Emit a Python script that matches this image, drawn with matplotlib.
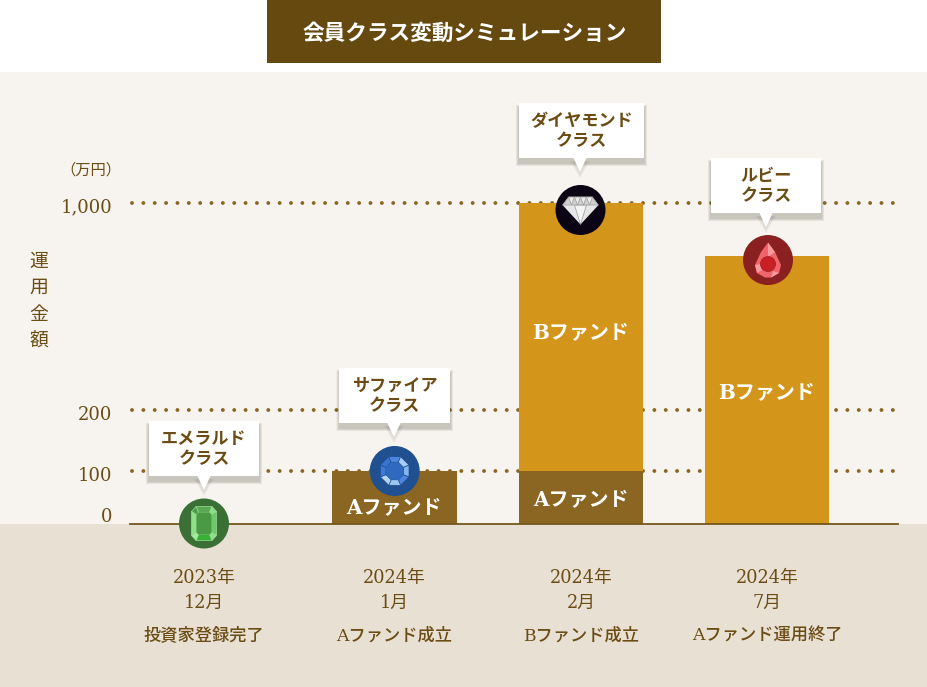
import numpy as np
import matplotlib
matplotlib.use('Agg')
import matplotlib.pyplot as plt
from matplotlib.patches import Rectangle, Polygon, Circle
from matplotlib.transforms import ScaledTranslation

# Data
dates = ['2023年\n12月', '2024年\n1月', '2024年\n2月', '2024年\n7月']
events = ['投資家登録完了', 'Aファンド成立', 'Bファンド成立', 'Aファンド運用終了']
classes = ['エメラルド\nクラス', 'サファイア\nクラス', 'ダイヤモンド\nクラス', 'ルビー\nクラス']
fund_a = [0, 100, 100, 0]
fund_b = [0, 0, 900, 795]
y_ticks = [0, 100, 200, 1000]
y_tick_labels = ['0', '100', '200', '1,000']
grid_values = [100, 200, 1000]

# Layout (pixels)
W, H = 928, 687
slot_x = [204, 394.5, 581, 767]
y0, y1000 = 523.5, 203
scale_px = [0, 52.5, 113.5, 320.5]

BROWN = '#6b4c14'
DOT = '#8a6622'
MIXED = ['DejaVu Serif', 'Noto Sans CJK JP']
GOTHIC = ['Noto Sans CJK JP', 'DejaVu Sans']


def forward(v):
    return np.interp(v, y_ticks, scale_px)


def inverse(p):
    return np.interp(p, scale_px, y_ticks)


def to_px(v):
    return y0 - float(forward(v))


fig = plt.figure(figsize=(W / 100, H / 100), dpi=100, facecolor='white')

# Background bands
bg = fig.add_axes([0, 0, 1, 1], zorder=0)
bg.set_xlim(0, W)
bg.set_ylim(H, 0)
bg.axis('off')
bg.add_patch(Rectangle((0, 72), W, y0 - 72, color='#f7f4ef', lw=0))
bg.add_patch(Rectangle((0, y0), W, H - y0, color='#e8e0d3', lw=0))
bg.add_patch(Rectangle((267, 0), 394, 62.5, color='#65490f', lw=0))
bg.text(464.5, 33.5, '会員クラス変動シミュレーション', color='white', fontsize=15.6,
        fontweight='bold', family=GOTHIC, ha='center', va='center')

# Chart
ax = fig.add_axes([130 / W, (H - y0) / H, 770 / W, (y0 - y1000) / H], zorder=1)
ax.patch.set_visible(False)
ax.set_yscale('function', functions=(forward, inverse))
ax.set_xlim(130, 900)
ax.set_ylim(0, 1000)
for s in ax.spines.values():
    s.set_visible(False)

for v in grid_values:
    ax.plot([132, 900], [v, v], color=DOT, lw=2.8, dashes=(0.01, 2.91),
            dash_capstyle='round', clip_on=False, zorder=1)

ax.bar(slot_x, fund_a, width=124.5, color='#8a6622', zorder=2)
ax.bar(slot_x, fund_b, width=124.5, bottom=fund_a, color='#d4951b', zorder=2)
ax.plot([130, 898], [0, 0], color='#74561c', lw=1.3, clip_on=False, zorder=3)

ax.set_yticks(y_ticks)
ax.set_yticklabels(y_tick_labels, family='DejaVu Serif', fontsize=13, color=BROWN)
ax.set_xticks(slot_x)
ax.set_xticklabels(dates, family=MIXED, fontsize=12.8, color=BROWN, linespacing=1.5)
ax.tick_params(axis='y', length=0, pad=12.5)
ax.tick_params(axis='x', length=0, pad=33)
# labels sit a little off their lines, 0 is pushed up above the baseline
for lab, dy in zip(ax.get_yticklabels(), [9, -3, -3, -2]):
    lab.set_transform(lab.get_transform() + ScaledTranslation(0, dy / 100, fig.dpi_scale_trans))

# Overlay for callouts, gems and free text
ov = fig.add_axes([0, 0, 1, 1], zorder=2)
ov.patch.set_visible(False)
ov.set_xlim(0, W)
ov.set_ylim(H, 0)
ov.axis('off')

ax.set_ylabel('運\n用\n金\n額', rotation=0, family=GOTHIC, fontsize=13.6, color=BROWN,
              linespacing=1.36, ha='center', va='center')
ax.yaxis.set_label_coords(39, 301, transform=ov.transData)
ov.text(121, 170, '（万円）', family=GOTHIC, fontsize=11, color=BROWN, ha='right', va='center')

for x, txt in zip(slot_x, events):
    ov.text(x, 636, txt, family=MIXED, fontsize=12.4, fontweight='medium', color=BROWN, ha='center', va='center')

# Fund labels
for x, y, txt in [(394, 506, 'Aファンド'), (581, 498, 'Aファンド'), (581, 331, 'Bファンド'), (767, 391, 'Bファンド')]:
    ov.text(x, y + 1, txt, family=MIXED, fontsize=14.4, fontweight='bold', color='white', ha='center', va='center')


def callout(left, right, top, tail_x, txt):
    bottom = top + 55
    # soft shadow falling below the box
    for i in range(6, 0, -1):
        grow = i * 0.55
        ov.add_patch(Rectangle((left - grow, top + 5 - grow), right - left + 2 * grow, 55 + 2 * grow,
                               color='#3a3420', alpha=0.045, lw=0))
        ov.add_patch(Polygon([(tail_x - 7 - grow, bottom + 3), (tail_x + 7 + grow, bottom + 3),
                              (tail_x, bottom + 17 + grow)], color='#3a3420', alpha=0.02, lw=0))
    ov.add_patch(Rectangle((left, top), right - left, 55, color='white', lw=0))
    ov.add_patch(Polygon([(tail_x - 7, bottom - 1), (tail_x + 7, bottom - 1), (tail_x, bottom + 14)],
                         color='white', lw=0))
    ov.text((left + right) / 2, top + 28, txt, family=GOTHIC, fontsize=12.3, fontweight='bold',
            color=BROWN, ha='center', va='center', linespacing=1.15)


callout(149, 259, 421, 204, classes[0])
callout(339.5, 450, 368, 394, classes[1])
callout(519, 644, 103, 580, classes[2])
callout(711, 821, 158, 766, classes[3])


def facets(cx, cy, outer, inner, colors, edge):
    n = len(outer)
    for i in range(n):
        j = (i + 1) % n
        pts = [outer[i], outer[j], inner[j], inner[i]]
        ov.add_patch(Polygon([(cx + a, cy + b) for a, b in pts], facecolor=colors[i % len(colors)],
                             edgecolor=edge, lw=0.5))


# Emerald
ex, ey = 204, to_px(fund_a[0])
ov.add_patch(Circle((ex, ey), 25, color='#3a7035', lw=0))
o = [(-8, -17), (8, -17), (12.5, -12), (12.5, 12), (8, 17), (-8, 17), (-12.5, 12), (-12.5, -12)]
n = [(-5.5, -11), (5.5, -11), (7.5, -9), (7.5, 9), (5.5, 11), (-5.5, 11), (-7.5, 9), (-7.5, -9)]
facets(ex, ey, o, n, ['#5aa854', '#8fdc8a', '#6ec96a', '#8fe08a', '#38b036', '#a5eba0', '#8fe08a', '#4e9c49'], '#9adf96')
ov.add_patch(Polygon([(ex + a, ey + b) for a, b in n], color='#4a9a45', lw=0))

# Sapphire
sx, sy = 394.7, to_px(fund_a[1])
ov.add_patch(Circle((sx, sy), 25, color='#20508f', lw=0))
ang = np.radians(np.arange(8) * 45 + 22.5)
o = [(15.5 * np.cos(a), 15.5 * np.sin(a)) for a in ang]
n = [(9.5 * np.cos(a), 9.5 * np.sin(a)) for a in ang]
facets(sx, sy, o, n, ['#4d86de', '#9cc8f4', '#b5d6f7', '#3f7bd6', '#3a74d0', '#4d86de', '#a8cdf5', '#82b4ef'], '#1f4d92')
ov.add_patch(Polygon([(sx + a, sy + b) for a, b in n], color='#2f6abf', lw=0))

# Diamond
dx, dy = 580.5, to_px(fund_a[2] + fund_b[2]) + 7
ov.add_patch(Circle((dx, dy), 25, color='#0b0415', lw=0))
ov.add_patch(Polygon([(dx - 18, dy - 5), (dx + 18, dy - 5), (dx, dy + 14.5)], color='#e6e6e6', lw=0))
ov.add_patch(Polygon([(dx - 6, dy - 5), (dx + 6, dy - 5), (dx, dy + 14.5)], color='#f4f4f4', ec='#9a9a9a', lw=0.5))
ov.add_patch(Polygon([(dx - 12, dy - 13), (dx + 12, dy - 13), (dx + 18, dy - 5), (dx - 18, dy - 5)],
                     facecolor='#cfcfcf', edgecolor='#9a9a9a', lw=0.5))
for a, b in [(-12, -6), (-6, 0), (0, 6), (6, 12)]:
    ov.add_patch(Polygon([(dx + a, dy - 13), (dx + b, dy - 13), (dx + (a + b) / 2, dy - 5)],
                         facecolor='#ececec', edgecolor='#9a9a9a', lw=0.5))

# Ruby
rx, ry = 768, to_px(fund_a[3] + fund_b[3]) + 4
ov.add_patch(Circle((rx, ry), 25, color='#8a2020', lw=0))
ov.add_patch(Polygon([(rx, ry - 17.5), (rx + 7, ry - 8), (rx + 13, ry + 5), (rx + 11, ry + 13), (rx + 3, ry + 17.5),
                      (rx - 3, ry + 17.5), (rx - 11, ry + 13), (rx - 13, ry + 5), (rx - 7, ry - 8)],
                     color='#f0656b', lw=0))
for pts in [[(0, -17.5), (7, -8), (0, -3)], [(-13, 5), (-7, 4), (-6, 10), (-11, 13)], [(3, 17.5), (5, 11), (11, 13)]]:
    ov.add_patch(Polygon([(rx + a, ry + b) for a, b in pts], color='#f99a9e', lw=0))
ov.add_patch(Circle((rx, ry + 4), 7.5, color='#c92026', ec='#a01c20', lw=0.5))

fig.savefig('out.png', dpi=100)
